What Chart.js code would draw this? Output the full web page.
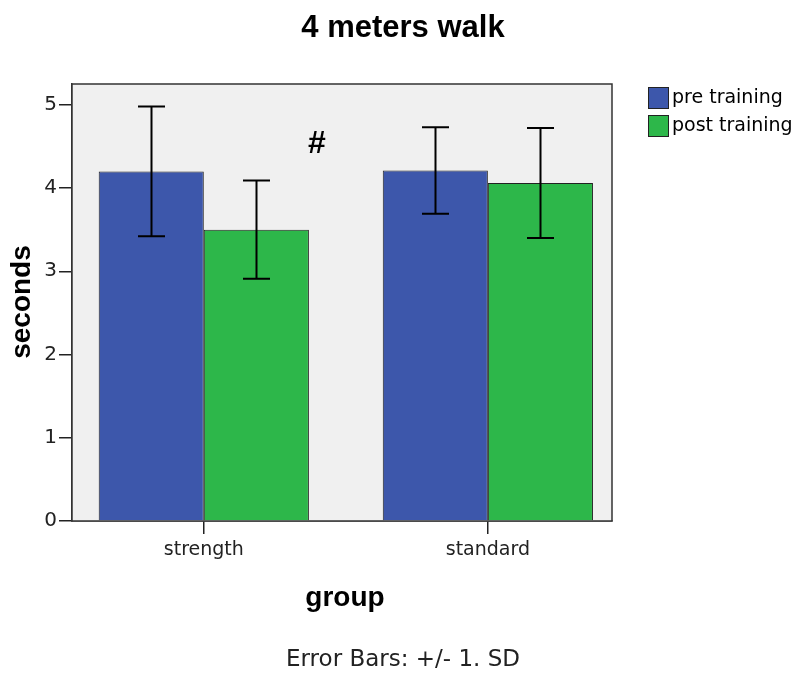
<!DOCTYPE html>
<html>
<head>
<meta charset="utf-8">
<script src="https://cdn.jsdelivr.net/npm/chart.js@4"></script>
<style>
  html, body { margin: 0; padding: 0; background: #ffffff; }
  #wrap { width: 795px; height: 674px; }
</style>
</head>
<body>
<div id="wrap"><canvas id="walkChart" width="795" height="674"></canvas></div>
<script>
// Data -----------------------------------------------------------------------
var groups = ['strength', 'standard'];
var seriesNames = ['pre training', 'post training'];
var preMeans = [4.20, 4.21];
var preSD = [0.78, 0.52];
var postMeans = [3.50, 4.06];
var postSD = [0.59, 0.66];
var yTicks = [0, 1, 2, 3, 4, 5];

// Styles ---------------------------------------------------------------------
var colors = Array('#3d57ab', '#2db74a', '#f0f0f0', '#222222', '#000000');
var boldFont = '"Liberation Sans", Arial, sans-serif';
var textFont = '"DejaVu Sans", Verdana, sans-serif';

const ctx = document.getElementById('walkChart').getContext('2d');

function toPoints(values) {
    return values.map(function(v, i) { return { x: i, y: v }; });
}

// Extra drawing: background, frame, error bars, texts ------------------------
const extras = {
    id: 'extras',
    beforeDatasetsDraw: function(chart) {
        var a = chart.chartArea;
        var c = chart.ctx;
        c.save();
        c.fillStyle = colors[2];
        c.fillRect(a.left, a.top, a.right - a.left, a.bottom - a.top);
        c.strokeStyle = '#333333';
        c.lineWidth = 1.5;
        c.strokeRect(a.left, a.top, a.right - a.left, a.bottom - a.top);
        c.restore();
    },
    afterDatasetsDraw: function(chart) {
        var c = chart.ctx;
        var ys = chart.scales.y;
        var sds = [preSD, postSD];
        var means = [preMeans, postMeans];
        c.save();
        c.strokeStyle = colors[4];
        c.lineWidth = 2;
        for (var d = 0; d < 2; d++) {
            var meta = chart.getDatasetMeta(d);
            for (var i = 0; i < groups.length; i++) {
                var x = Math.round(meta.data[i].x) + 0.5;
                var top = ys.getPixelForValue(means[d][i] + sds[d][i]);
                var bot = ys.getPixelForValue(means[d][i] - sds[d][i]);
                c.beginPath();
                c.moveTo(x, top); c.lineTo(x, bot);
                c.moveTo(x - 13.5, top); c.lineTo(x + 13.5, top);
                c.moveTo(x - 13.5, bot); c.lineTo(x + 13.5, bot);
                c.stroke();
            }
        }
        c.restore();
    },
    afterDraw: function(chart) {
        var c = chart.ctx;
        c.save();
        c.fillStyle = colors[4];
        c.textAlign = 'center';
        c.textBaseline = 'middle';

        // title
        c.font = 'bold 31px ' + boldFont;
        c.fillText('4 meters walk', 403, 28);

        // axis titles
        c.font = 'bold 28px ' + boldFont;
        c.fillText('group', 345, 598);
        c.save();
        c.translate(22, 302);
        c.rotate(-Math.PI / 2);
        c.fillText('seconds', 0, 0);
        c.restore();

        // footnote
        c.font = '23px ' + textFont;
        c.fillStyle = '#222222';
        c.fillText('Error Bars: +/- 1. SD', 403, 660);

        // significance mark
        c.fillStyle = colors[4];
        c.font = 'bold 32px ' + boldFont;
        c.fillText('#', 317, 144);

        // legend
        c.textAlign = 'left';
        c.font = '19px ' + textFont;
        for (var i = 0; i < seriesNames.length; i++) {
            var y0 = 87 + i * 28;
            c.fillStyle = colors[i];
            c.fillRect(648, y0, 20, 21);
            c.strokeStyle = '#222222';
            c.lineWidth = 1;
            c.strokeRect(648.5, y0 + 0.5, 20, 21);
            c.fillStyle = colors[4];
            c.fillText(seriesNames[i], 672, y0 + 11);
        }
        c.restore();
    }
};

// Chart ----------------------------------------------------------------------
const walkChart = new Chart(ctx, {
    type: 'bar',
    data: {
        datasets: [{
            label: seriesNames[0],
            data: toPoints(preMeans),
            backgroundColor: colors[0],
            borderColor: colors[3],
            borderWidth: 1,
            categoryPercentage: 0.74,
            barPercentage: 1.0
        }, {
            label: seriesNames[1],
            data: toPoints(postMeans),
            backgroundColor: colors[1],
            borderColor: colors[3],
            borderWidth: 1,
            categoryPercentage: 0.74,
            barPercentage: 1.0
        }]
    },
    options: {
        responsive: false,
        animation: false,
        layout: {
            padding: { left: 0, right: 183, top: 84, bottom: 0 }
        },
        plugins: {
            legend: { display: false },
            tooltip: { enabled: false },
            title: { display: false }
        },
        scales: {
            x: {
                type: 'linear',
                offset: false,
                min: -0.464,
                max: 1.437,
                afterBuildTicks: function(axis) {
                    axis.ticks = groups.map(function(g, i) { return { value: i }; });
                },
                afterFit: function(axis) { axis.height = 153; },
                grid: {
                    offset: false,
                    drawOnChartArea: false,
                    tickLength: 13,
                    color: colors[3],
                    lineWidth: 1.5
                },
                border: { display: true, color: '#333333', width: 1.5 },
                ticks: {
                    color: '#222222',
                    padding: 5,
                    font: { family: textFont, size: 19 },
                    callback: function(value) { return groups[value]; }
                }
            },
            y: {
                min: 0,
                max: 5.25,
                afterBuildTicks: function(axis) {
                    axis.ticks = yTicks.map(function(v) { return { value: v }; });
                },
                afterFit: function(axis) { axis.width = 72; },
                grid: {
                    drawOnChartArea: false,
                    tickLength: 13,
                    color: colors[3],
                    lineWidth: 1.5
                },
                border: { display: true, color: '#333333', width: 1.5 },
                ticks: {
                    color: '#222222',
                    padding: 2,
                    font: { family: textFont, size: 20 }
                }
            }
        }
    },
    plugins: [extras]
});
</script>
</body>
</html>
